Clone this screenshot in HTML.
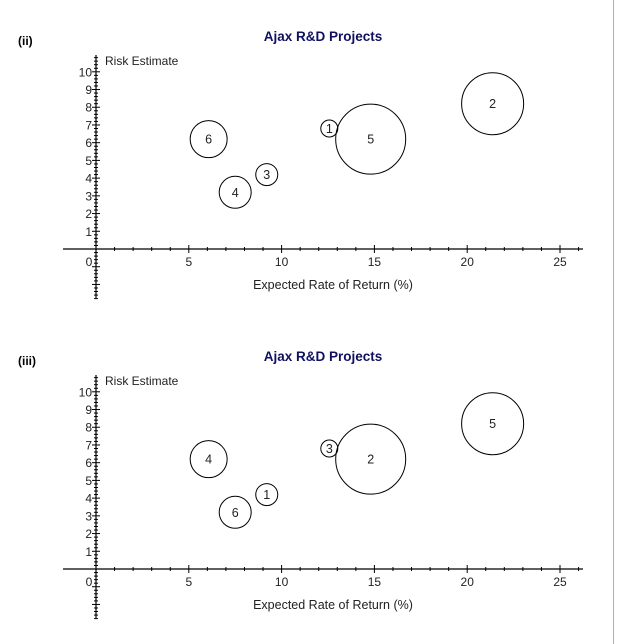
<!DOCTYPE html>
<html><head><meta charset="utf-8">
<style>
html,body{margin:0;padding:0;background:#fff;width:617px;height:644px;overflow:hidden}
svg{display:block}
text{font-family:"Liberation Sans","DejaVu Sans",sans-serif}
</style></head>
<body>
<svg id="chart" width="617" height="644" viewBox="0 0 617 644" xmlns="http://www.w3.org/2000/svg">
<line x1="613.5" y1="0" x2="613.5" y2="644" stroke="#b0b0b0" stroke-width="1"/>
</svg>
<script>
// Shared axis data
const xTicks = [5, 10, 15, 20, 25];
const yTicks = [1, 2, 3, 4, 5, 6, 7, 8, 9, 10];
const xValues = [6.07, 7.5, 9.2, 12.57, 14.8, 21.37];
const yValues = [6.2, 3.2, 4.2, 6.8, 6.2, 8.2];
const bubbleSizes = [18.5, 16, 11, 8.5, 35, 31];
const labelsChartTwo = ["6", "4", "3", "1", "5", "2"];
const labelsChartThree = ["4", "6", "1", "3", "2", "5"];
const panelTags = ["(ii)", "(iii)"];
const chartTitles = ["Ajax R&D Projects", "Ajax R&D Projects"];

const NS = "http://www.w3.org/2000/svg";
const svg = document.getElementById("chart");
function mk(tag, attrs, parent) {
  const e = document.createElementNS(NS, tag);
  for (const k in attrs) e.setAttribute(k, attrs[k]);
  (parent || svg).appendChild(e);
  return e;
}

function drawPanel(idx, offY, labels) {
  const g = mk("g", {});
  
  
  const X = v => 96 + v * 18.56;
  const Y = v => offY + 249 - v * 17.72;

  const tag = mk("text", {x: 18, y: offY + 45, "font-size": 12, "font-weight": "bold", fill: "#000"}, g);
  tag.textContent = panelTags[idx];
  
  

  const title = mk("text", {x: 323, y: offY + 41, "font-size": 13.5, "font-weight": "bold", fill: "#101060", "text-anchor": "middle"}, g);
  title.textContent = chartTitles[idx];
  
  

  // x axis
  const xa = mk("line", {x1: 63, y1: Y(0), x2: 583, y2: Y(0), stroke: "#000", "stroke-width": 1.2}, g);
  
  
  for (let v = 1; v <= 26; v++) {
    const big = v % 5 === 0;
    mk("line", {x1: X(v), y1: Y(0) - (big ? 4 : 2), x2: X(v), y2: Y(0) + (big ? 4 : 2), stroke: "#000", "stroke-width": 1}, g);
  }
  xTicks.forEach(t => {
    const tl = mk("text", {x: X(t), y: Y(0) + 17, "font-size": 12, fill: "#222", "text-anchor": "middle"}, g);
    tl.textContent = t;
    
    
  });
  const z = mk("text", {x: 89, y: Y(0) + 17, "font-size": 12, fill: "#222", "text-anchor": "middle"}, g);
  z.textContent = "0";
  
  

  // y axis
  const ya = mk("line", {x1: X(0), y1: offY + 55, x2: X(0), y2: offY + 298, stroke: "#000", "stroke-width": 1.2}, g);
  
  
  for (let i = -14; i <= 54; i++) {
    const v = i / 5;
    const big = i % 5 === 0;
    mk("line", {x1: X(0) - (big ? 4 : 2), y1: Y(v), x2: X(0) + (big ? 4 : 2), y2: Y(v), stroke: "#000", "stroke-width": 1}, g);
  }
  yTicks.forEach(t => {
    const tl = mk("text", {x: X(0) - 4, y: Y(t) + 4.5, "font-size": 12, fill: "#222", "text-anchor": "end"}, g);
    tl.textContent = t;
    
    
  });

  const yt = mk("text", {x: 105, y: offY + 65, "font-size": 12, fill: "#222"}, g);
  yt.textContent = "Risk Estimate";
  
  
  const xt = mk("text", {x: 333, y: Y(0) + 40, "font-size": 12.5, fill: "#222", "text-anchor": "middle"}, g);
  xt.textContent = "Expected Rate of Return (%)";
  
  

  // bubbles
  xValues.forEach((xv, i) => {
    const c = mk("circle", {cx: X(xv), cy: Y(yValues[i]), r: bubbleSizes[i], fill: "none", stroke: "#000", "stroke-width": 1}, g);
    
    
    const t = mk("text", {x: X(xv), y: Y(yValues[i]) + 4.5, "font-size": 12.5, fill: "#222", "text-anchor": "middle"}, g);
    t.textContent = labels[i];
    
    
  });
}
drawPanel(0, 0, labelsChartTwo);
drawPanel(1, 320, labelsChartThree);
</script>
</body></html>
